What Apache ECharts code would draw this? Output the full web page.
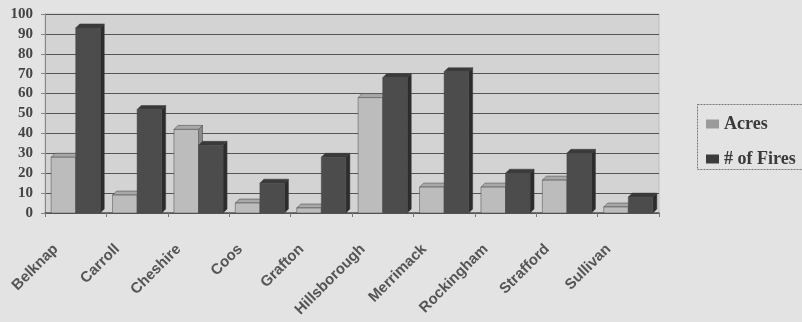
<!DOCTYPE html>
<html>
<head>
<meta charset="utf-8">
<script src="https://cdn.jsdelivr.net/npm/echarts@6/dist/echarts.min.js"></script>
<style>
  html, body { margin: 0; padding: 0; background: #e3e3e3; }
  #main { width: 802px; height: 322px; }
</style>
</head>
<body>
<div id="main"></div>
<script>
var counties = ['Belknap', 'Carroll', 'Cheshire', 'Coos', 'Grafton', 'Hillsborough', 'Merrimack', 'Rockingham', 'Strafford', 'Sullivan'];
var acres = [28, 9, 42, 5, 2.5, 58, 13, 13, 16.5, 3];
var fires = [93, 52, 34, 15, 28, 68, 71, 20, 30, 8];
var yTicks = [0, 10, 20, 30, 40, 50, 60, 70, 80, 90, 100];

var chart = echarts.init(document.getElementById('main'));

// draws a small 3D box for each bar: front, top and right side
function boxRenderer(shift, front, top, side) {
  return function (params, api) {
    var idx = api.value(0);
    var p = api.coord([idx, api.value(1)]);
    var base = api.coord([idx, 0]);
    var band = api.size([1, 0])[0];
    var w = band * 0.4;
    var d = 4;
    var x0 = p[0] + shift * w;
    var y = p[1];
    var b = base[1];
    return {
      type: 'group',
      children: [
        {
          type: 'polygon',
          shape: { points: [[x0 + w, y], [x0 + w + d, y - d], [x0 + w + d, b - d], [x0 + w, b]] },
          style: { fill: side, stroke: '#3a3a3a', lineWidth: 0.5 }
        },
        {
          type: 'polygon',
          shape: { points: [[x0, y], [x0 + d, y - d], [x0 + w + d, y - d], [x0 + w, y]] },
          style: { fill: top, stroke: '#3a3a3a', lineWidth: 0.5 }
        },
        {
          type: 'rect',
          shape: { x: x0, y: y, width: w, height: b - y },
          style: { fill: front, stroke: '#4a4a4a', lineWidth: 0.5 }
        }
      ]
    };
  };
}

chart.setOption({
  backgroundColor: '#e3e3e3',
  animation: false,
  grid: {
    left: 45,
    right: 143,
    top: 14,
    bottom: 109,
    show: true,
    backgroundColor: '#d3d3d3',
    borderColor: '#bdbdbd',
    borderWidth: 1
  },
  legend: {
    orient: 'vertical',
    left: 701,
    top: 110,
    itemWidth: 13,
    itemHeight: 9,
    itemGap: 17,
    textStyle: {
      fontFamily: 'Liberation Serif',
      fontWeight: 'bold',
      fontSize: 18,
      color: '#3a3a3a'
    },
    data: [
      { name: 'Acres', icon: 'rect', itemStyle: { color: '#9a9a9a' } },
      { name: '# of Fires', icon: 'rect', itemStyle: { color: '#3c3c3c' } }
    ]
  },
  graphic: [{
    type: 'rect',
    left: 695,
    top: 102,
    shape: { width: 120, height: 65 },
    style: { fill: 'none', stroke: '#777', lineWidth: 1, lineDash: [2, 1] },
    silent: true
  }],
  xAxis: {
    type: 'category',
    data: counties,
    axisLine: { show: true, lineStyle: { color: '#555', width: 1.5 } },
    axisTick: { show: true, alignWithLabel: false, length: 4, lineStyle: { color: '#777' } },
    axisLabel: {
      rotate: 45,
      interval: 0,
      margin: 14,
      padding: [0, 28, 0, 0],
      fontFamily: 'Liberation Sans',
      fontWeight: 'bold',
      fontSize: 15,
      color: '#555'
    }
  },
  yAxis: {
    type: 'value',
    min: 0,
    max: 100,
    interval: 10,
    axisLine: { show: true, lineStyle: { color: '#888' } },
    axisTick: { show: true, length: 4, lineStyle: { color: '#888' } },
    splitLine: { lineStyle: { color: '#555', width: 1 } },
    axisLabel: {
      margin: 12,
      fontFamily: 'Liberation Serif',
      fontWeight: 'bold',
      fontSize: 15,
      color: '#444',
      formatter: function (v) { return yTicks.indexOf(v) >= 0 ? String(v) : ''; }
    }
  },
  series: [
    {
      name: 'Acres',
      type: 'custom',
      itemStyle: { color: '#9a9a9a' },
      renderItem: boxRenderer(-1, '#bcbcbc', '#a8a8a8', '#8a8a8a'),
      encode: { x: 0, y: 1 },
      data: acres.map(function (v, i) { return [i, v]; }),
      z: 2
    },
    {
      name: '# of Fires',
      type: 'custom',
      itemStyle: { color: '#3c3c3c' },
      renderItem: boxRenderer(0, '#4c4c4c', '#3a3a3a', '#2c2c2c'),
      encode: { x: 0, y: 1 },
      data: fires.map(function (v, i) { return [i, v]; }),
      z: 3
    }
  ]
});
</script>
</body>
</html>
